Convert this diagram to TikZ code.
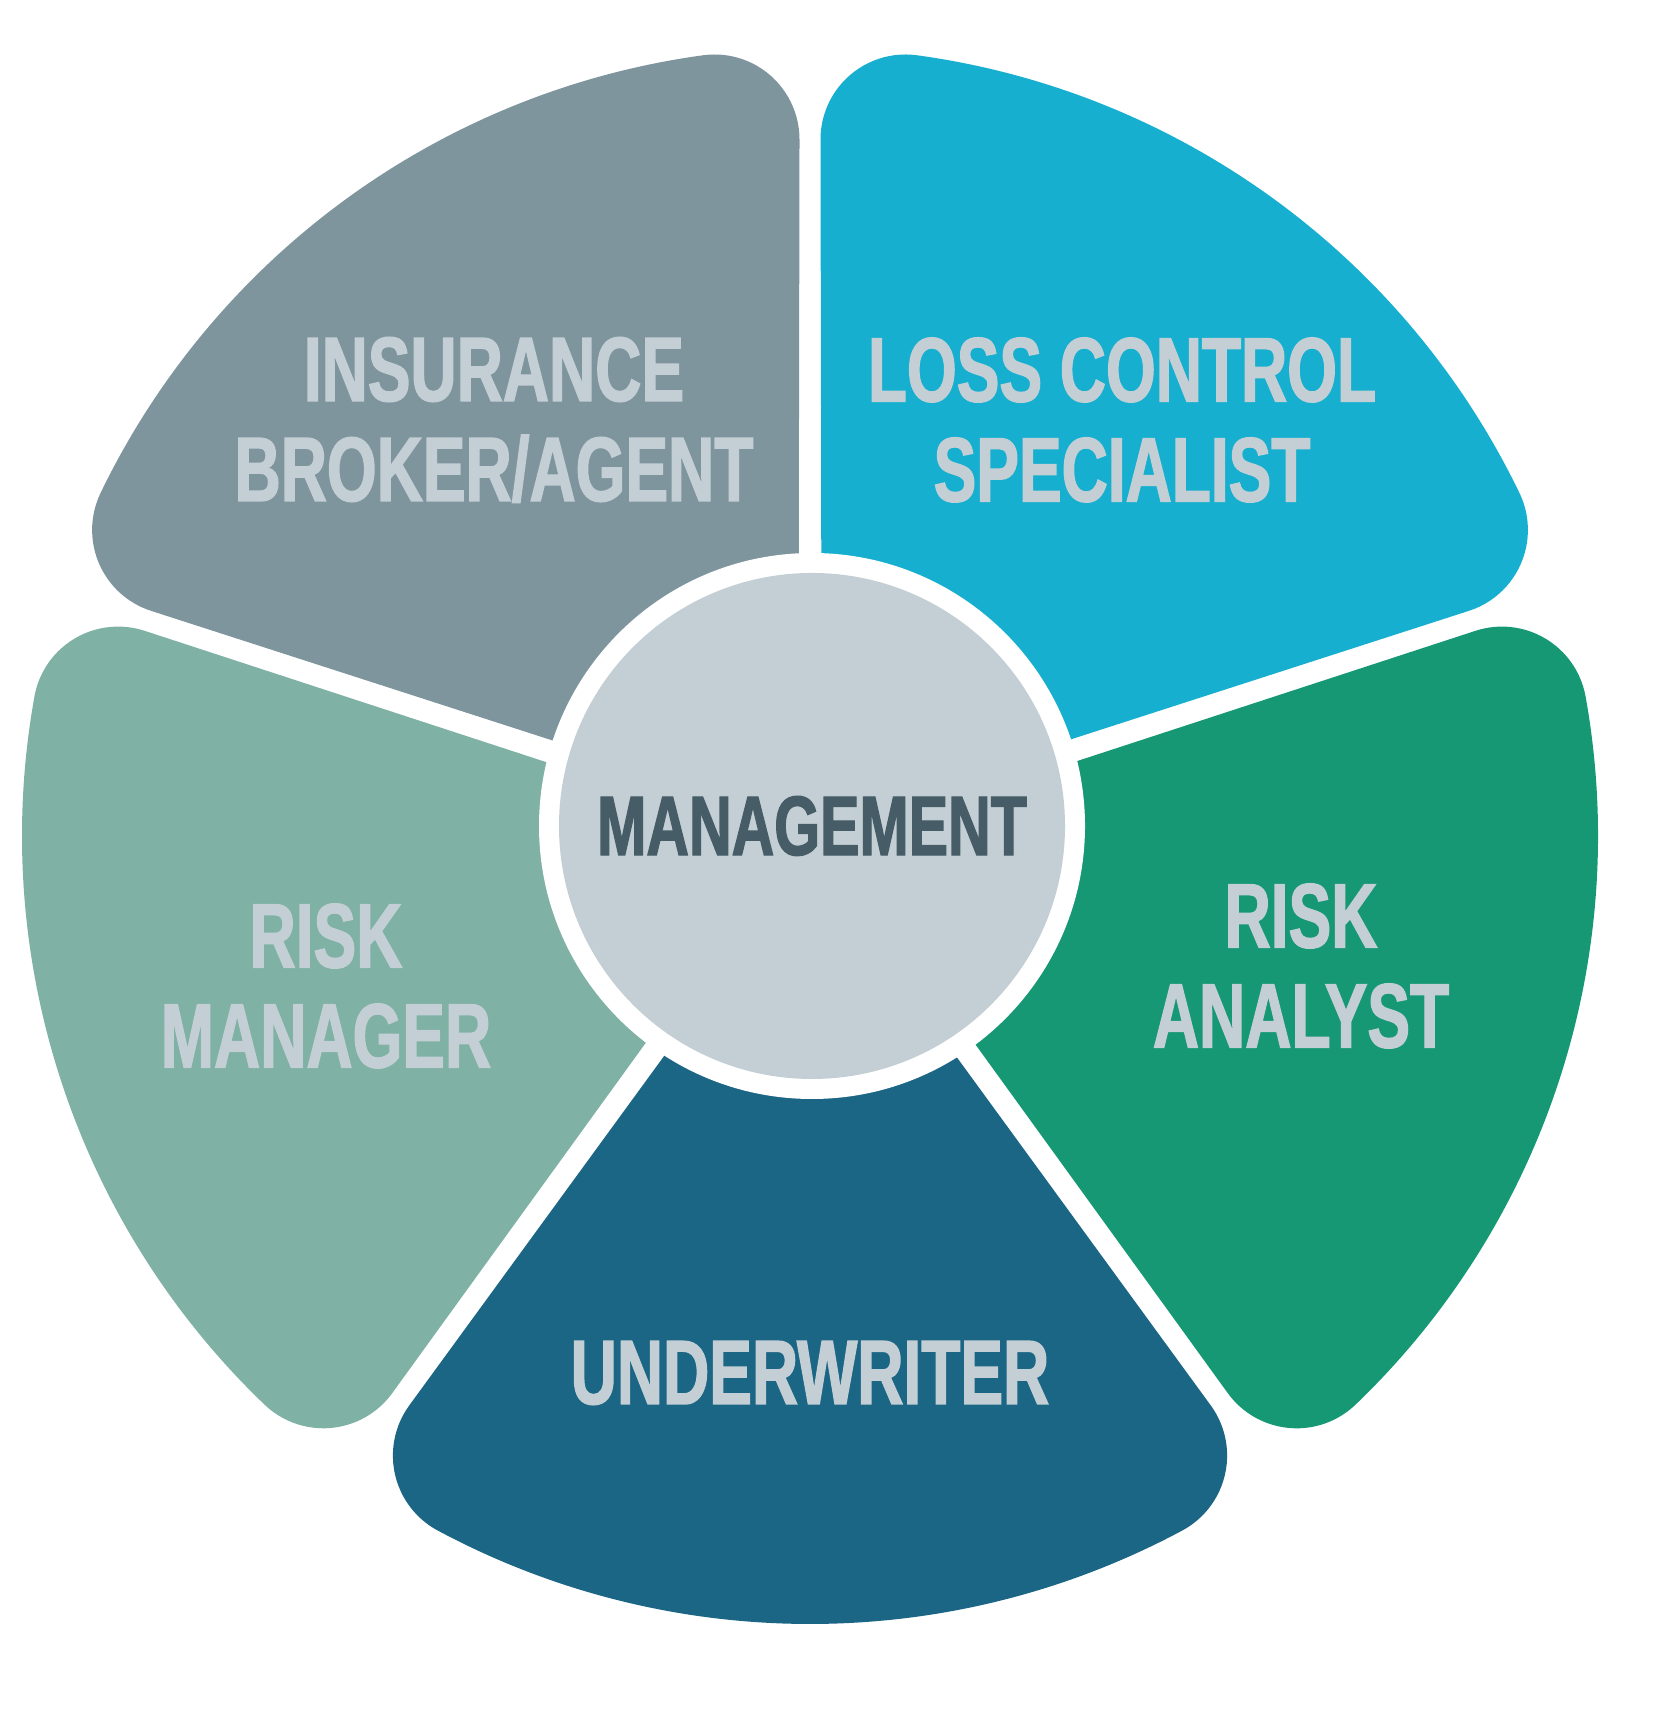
\documentclass[tikz,border=0pt]{standalone}
\usepackage{fontspec}
\newfontfamily\wheelfont{Liberation Sans}[FakeStretch=0.70, FakeBold=1.5]
\usetikzlibrary{calc}
\definecolor{cBroker}{RGB}{127,149,158}
\definecolor{cLoss}{RGB}{23,175,207}
\definecolor{cAnalyst}{RGB}{22,152,116}
\definecolor{cWriter}{RGB}{27,101,133}
\definecolor{cManager}{RGB}{127,177,165}
\definecolor{cHub}{RGB}{195,207,212}
\definecolor{cHubText}{RGB}{70,92,102}

\begin{document}
\begin{tikzpicture}[
      lbl/.style={text=cHub, inner sep=0pt, align=center,
                  font=\wheelfont\bfseries\fontsize{26}{28.45}\selectfont},
      hub/.style={circle, fill=cHub, minimum size=5.06cm, inner sep=0pt,
                  text=cHubText, font=\wheelfont\bfseries\fontsize{24}{28}\selectfont}]
    \useasboundingbox (0,0) rectangle (16.71,17.30);
    \coordinate (W) at (8.10,8.94);
    \coordinate (H) at (8.12,9.04);
    % outer radius, corner radius, half gap
    \pgfmathsetmacro\R{7.88}
    \pgfmathsetmacro\rr{0.85}
    \pgfmathsetmacro\dd{0.105}
    \pgfmathsetmacro\ss{sqrt((\R-\rr)^2-(\dd+\rr)^2)}
    \pgfmathsetmacro\del{atan2(\dd+\rr,\ss)}
    % five wedges
    \foreach \a/\col in {90/cBroker, 18/cLoss, -54/cAnalyst, -126/cWriter, 162/cManager}
      \fill[\col] ($(W)+(\a:\ss)+(\a+90:\dd)$)
        arc[start angle=\a-90, end angle=\a+\del, radius=\rr]
        arc[start angle=\a+\del, end angle=\a+72-\del, radius=\R]
        arc[start angle=\a+72-\del, end angle=\a+162, radius=\rr]
        -- ($(W)+(\a+36:0.2)$) -- cycle;
    \node[lbl] (broker) at (4.94,13.10) {INSURANCE\\BROKER/AGENT};
    \node[lbl] (loss) at (11.22,13.10) {LOSS CONTROL\\SPECIALIST};
    \node[lbl] (analyst) at (13.01,7.64) {RISK\\ANALYST};
    \node[lbl] (manager) at (3.26,7.44) {RISK\\MANAGER};
    \node[lbl] (writer) at (8.10,3.57) {UNDERWRITER};
    % hub
    \fill[white] (H) circle (2.73);
    \node[hub] (mgmt) at (H) {MANAGEMENT};
  \end{tikzpicture}
\end{document}
